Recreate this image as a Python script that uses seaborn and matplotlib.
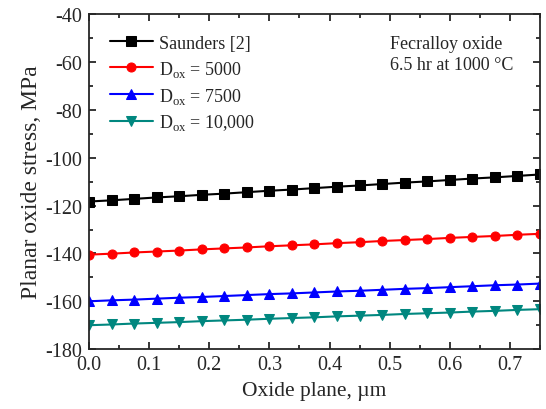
import numpy as np
import pandas as pd
import matplotlib
matplotlib.use("Agg")
import matplotlib.pyplot as plt
import seaborn as sns
from matplotlib.ticker import MultipleLocator

x_pos = [0.0, 0.0375, 0.075, 0.1125, 0.15, 0.1875, 0.225, 0.2625, 0.3, 0.3375,
         0.375, 0.4125, 0.45, 0.4875, 0.525, 0.5625, 0.6, 0.6375, 0.675, 0.7125, 0.75]
saunders = [-118.3, -117.8, -117.2, -116.6, -116.1, -115.5, -115.0, -114.4, -113.8, -113.3,
            -112.7, -112.1, -111.6, -111.0, -110.4, -109.9, -109.3, -108.7, -108.2, -107.6, -107.0]
d5000 = [-140.5, -140.1, -139.6, -139.2, -138.8, -138.3, -137.9, -137.5, -137.0, -136.6,
         -136.2, -135.7, -135.3, -134.8, -134.4, -134.0, -133.5, -133.1, -132.7, -132.2, -131.8]
d7500 = [-160.0, -159.6, -159.3, -158.9, -158.5, -158.2, -157.8, -157.4, -157.0, -156.7,
         -156.3, -155.9, -155.6, -155.2, -154.8, -154.5, -154.1, -153.7, -153.3, -153.0, -152.6]
d10000 = [-170.0, -169.7, -169.3, -169.0, -168.7, -168.3, -168.0, -167.7, -167.3, -167.0,
          -166.7, -166.3, -166.0, -165.7, -165.3, -165.0, -164.7, -164.3, -164.0, -163.6, -163.3]

labels = ["Saunders [2]", r"D$_\mathregular{ox}$ = 5000", r"D$_\mathregular{ox}$ = 7500",
          r"D$_\mathregular{ox}$ = 10,000"]
series = [saunders, d5000, d7500, d10000]
colors = ["#000000", "#ff0000", "#0000ff", "#00877f"]
markers = ["s", "o", "^", "v"]

sns.set_style("ticks")
plt.rcParams["font.family"] = ["Liberation Serif", "DejaVu Serif"]
plt.rcParams["mathtext.fontset"] = "custom"
plt.rcParams["mathtext.rm"] = "Liberation Serif"
plt.rcParams["axes.unicode_minus"] = False

fig = plt.figure(figsize=(5.46, 4.10), dpi=100)
ax = fig.add_axes([0.163, 0.146, 0.826, 0.817])

for lab, vals, c, m in zip(labels, series, colors, markers):
    df = pd.DataFrame({"x": x_pos, "y": vals})
    sns.lineplot(data=df, x="x", y="y", ax=ax, color=c, marker=m, markersize=6.5,
                 markeredgecolor=c, linewidth=1.5, label=lab, clip_on=True)

ax.set_xlim(0, 0.75)
ax.set_ylim(-180, -40)
ax.xaxis.set_major_locator(MultipleLocator(0.1))
ax.xaxis.set_minor_locator(MultipleLocator(0.05))
ax.yaxis.set_major_locator(MultipleLocator(20))
ax.yaxis.set_minor_locator(MultipleLocator(10))
ax.xaxis.set_major_formatter(matplotlib.ticker.FormatStrFormatter("%.1f"))
ax.tick_params(which="both", direction="in", top=True, right=True, width=1.3)
ax.tick_params(which="major", length=5, labelsize=14.5)
ax.tick_params(which="minor", length=3)
ax.tick_params(axis="y", which="major", pad=5)
ax.tick_params(axis="x", which="major", pad=4.5)
for s in ax.spines.values():
    s.set_linewidth(1.3)

ax.set_xlabel("Oxide plane, µm", fontsize=15.5, labelpad=5)
ax.set_ylabel("Planar oxide stress, MPa", fontsize=17, labelpad=2)

leg = ax.legend(loc="upper left", frameon=False, fontsize=13, handlelength=2.4,
                handletextpad=0.3, borderaxespad=0.0, labelspacing=0.38,
                bbox_to_anchor=(0.03, 0.96))

ax.text(0.667, 0.937, "Fecralloy oxide\n6.5 hr at 1000 °C", transform=ax.transAxes,
        fontsize=13, va="top", ha="left", linespacing=1.25)

fig.savefig("out.png", dpi=100)
